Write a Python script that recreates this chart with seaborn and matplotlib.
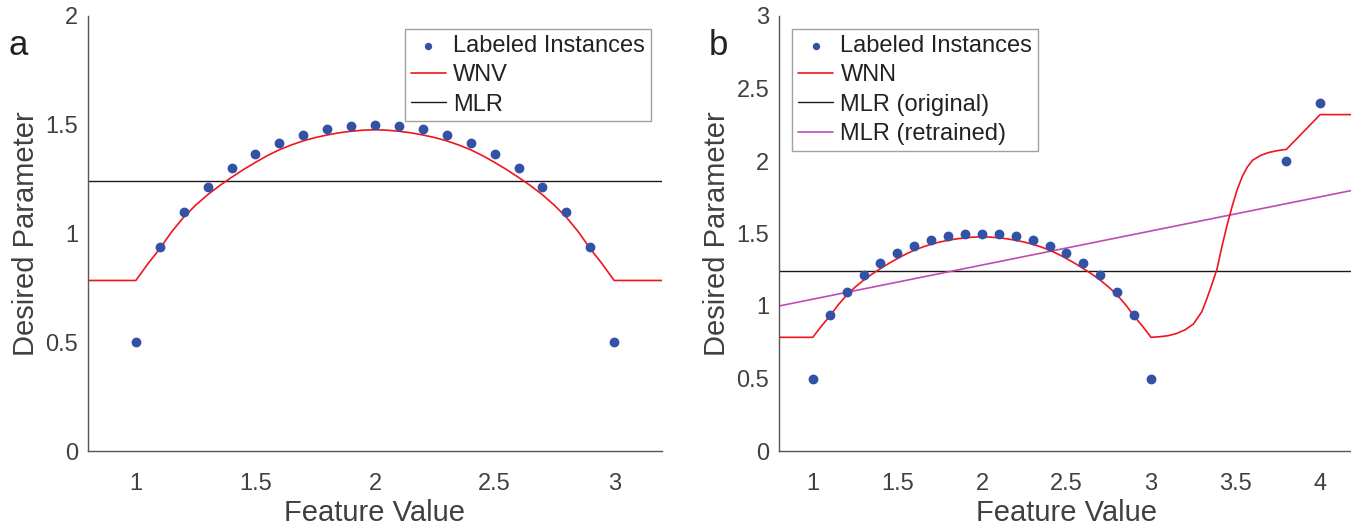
import numpy as np
import pandas as pd
import matplotlib
matplotlib.use("Agg")
import matplotlib.pyplot as plt
from matplotlib.ticker import FormatStrFormatter
import seaborn as sns

# ---- labeled instances ----
inst_x = [1.0, 1.1, 1.2, 1.3, 1.4, 1.5, 1.6, 1.7, 1.8, 1.9, 2.0,
          2.1, 2.2, 2.3, 2.4, 2.5, 2.6, 2.7, 2.8, 2.9, 3.0]
inst_y = [0.5, 0.936, 1.1, 1.214, 1.3, 1.366, 1.417, 1.454, 1.48, 1.495, 1.5,
          1.495, 1.48, 1.454, 1.417, 1.366, 1.3, 1.214, 1.1, 0.936, 0.5]
extra_x = [3.8, 4.0]
extra_y = [2.0, 2.4]

# ---- weighted nearest-neighbour fit (arch part, shared by both panels) ----
arch_x = [0.8, 1.0, 1.05, 1.1, 1.15, 1.2, 1.25, 1.3, 1.35, 1.4, 1.45, 1.5,
          1.55, 1.6, 1.65, 1.7, 1.75, 1.8, 1.85, 1.9, 1.95, 2.0,
          2.05, 2.1, 2.15, 2.2, 2.25, 2.3, 2.35, 2.4, 2.45, 2.5,
          2.55, 2.6, 2.65, 2.7, 2.75, 2.8, 2.85, 2.9, 2.95, 3.0]
arch_y = [0.784, 0.784, 0.86, 0.93, 1.008, 1.075, 1.13, 1.178, 1.22, 1.258, 1.294, 1.327,
          1.358, 1.385, 1.407, 1.426, 1.441, 1.453, 1.463, 1.47, 1.475, 1.477,
          1.475, 1.47, 1.463, 1.453, 1.441, 1.426, 1.407, 1.385, 1.358, 1.327,
          1.294, 1.258, 1.22, 1.178, 1.13, 1.075, 1.008, 0.93, 0.86, 0.784]
wnv_tail_x = [3.2]
wnv_tail_y = [0.784]
wnn_tail_x = [3.05, 3.1, 3.15, 3.2, 3.25, 3.3, 3.33, 3.36, 3.39, 3.42, 3.45,
              3.48, 3.51, 3.54, 3.57, 3.6, 3.65, 3.7, 3.75, 3.8, 4.0, 4.2]
wnn_tail_y = [0.788, 0.795, 0.81, 0.835, 0.875, 0.96, 1.05, 1.15, 1.255, 1.415, 1.56,
              1.69, 1.805, 1.895, 1.96, 2.005, 2.04, 2.06, 2.072, 2.08, 2.32, 2.32]

# ---- linear regressions ----
mlr_orig_y = 1.24
mlr_re_x = [0.8, 4.2]
mlr_re_y = [1.0, 1.8]

xticks_a = [1, 1.5, 2, 2.5, 3]
xticks_b = [1, 1.5, 2, 2.5, 3, 3.5, 4]
yticks_a = [0, 0.5, 1, 1.5, 2]
yticks_b = [0, 0.5, 1, 1.5, 2, 2.5, 3]

sns.set_theme(style="white")
plt.rcParams["font.family"] = ["Liberation Sans", "DejaVu Sans"]

DOT = "#3352a6"
RED = "#f0141e"
BLACK = "#1a1a1a"
MAG = "#bd4db5"
AXC = "#555555"
TXT = "#404040"

fig = plt.figure(figsize=(13.51, 5.27), dpi=100)
ax_a = fig.add_axes([88 / 1351, 1 - 451 / 527, (662 - 88) / 1351, (451 - 16) / 527])
ax_b = fig.add_axes([779 / 1351, 1 - 451 / 527, (1354 - 779) / 1351, (451 - 16) / 527])

pts = pd.DataFrame({"x": inst_x, "y": inst_y})
pts_b = pd.DataFrame({"x": inst_x + extra_x, "y": inst_y + extra_y})
wnv = pd.DataFrame({"x": arch_x + wnv_tail_x, "y": arch_y + wnv_tail_y})
wnn = pd.DataFrame({"x": arch_x + wnn_tail_x, "y": arch_y + wnn_tail_y})

# panel a
sns.scatterplot(data=pts, x="x", y="y", ax=ax_a, color=DOT, s=50, linewidth=0,
                label="Labeled Instances", zorder=3)
sns.lineplot(data=wnv, x="x", y="y", ax=ax_a, color=RED, lw=1.2, sort=False,
             estimator=None, label="WNV", zorder=2)
sns.lineplot(x=[0.8, 3.2], y=[mlr_orig_y, mlr_orig_y], ax=ax_a, color=BLACK, lw=1.0,
             estimator=None, label="MLR", zorder=1)
ax_a.set_xlim(0.8, 3.2)
ax_a.set_ylim(0, 2)
ax_a.set_xticks(xticks_a)
ax_a.set_yticks(yticks_a)

# panel b
sns.scatterplot(data=pts_b, x="x", y="y", ax=ax_b, color=DOT, s=50, linewidth=0,
                label="Labeled Instances", zorder=3)
sns.lineplot(data=wnn, x="x", y="y", ax=ax_b, color=RED, lw=1.2, sort=False,
             estimator=None, label="WNN", zorder=2)
sns.lineplot(x=[0.8, 4.2], y=[mlr_orig_y, mlr_orig_y], ax=ax_b, color=BLACK, lw=1.0,
             estimator=None, label="MLR (original)", zorder=1)
sns.lineplot(x=mlr_re_x, y=mlr_re_y, ax=ax_b, color=MAG, lw=1.2,
             estimator=None, label="MLR (retrained)", zorder=1)
ax_b.set_xlim(0.8, 4.2)
ax_b.set_ylim(0, 3)
ax_b.set_xticks(xticks_b)
ax_b.set_yticks(yticks_b)

for ax in (ax_a, ax_b):
    for side in ("top", "right"):
        ax.spines[side].set_visible(False)
    for side in ("left", "bottom"):
        ax.spines[side].set_color(AXC)
        ax.spines[side].set_linewidth(1.0)
    ax.tick_params(direction="in", length=5, width=0.9, color=AXC,
                   labelsize=17, labelcolor=TXT)
    ax.tick_params(axis="x", pad=16)
    ax.tick_params(axis="y", pad=7)
    ax.xaxis.set_major_formatter(FormatStrFormatter("%g"))
    ax.yaxis.set_major_formatter(FormatStrFormatter("%g"))
    ax.set_xlabel("Feature Value", fontsize=21, color=TXT, labelpad=3)
    ax.set_ylabel("Desired Parameter", fontsize=21, color=TXT, labelpad=4)
    ax.set_facecolor("white")

leg_kw = dict(fontsize=17, frameon=True, fancybox=False, handlelength=1.5,
              handletextpad=0.3, labelspacing=0.31, borderpad=0.25,
              borderaxespad=0, markerscale=0.75)
la = ax_a.legend(loc="upper right", bbox_to_anchor=(651 / 1351, 1 - 29 / 527),
                 bbox_transform=fig.transFigure, **leg_kw)
lb = ax_b.legend(loc="upper left", bbox_to_anchor=(792 / 1351, 1 - 29 / 527),
                 bbox_transform=fig.transFigure, **leg_kw)
for lg in (la, lb):
    fr = lg.get_frame()
    fr.set_edgecolor("#8a8a8a")
    fr.set_linewidth(1.0)
    for t in lg.get_texts():
        t.set_color("#222222")

fig.text(18 / 1351, 1 - 45 / 527, "a", fontsize=25, color="#222222",
         ha="center", va="center")
fig.text(718 / 1351, 1 - 45 / 527, "b", fontsize=25, color="#222222",
         ha="center", va="center")

fig.savefig("out.png", dpi=100, facecolor="white")
